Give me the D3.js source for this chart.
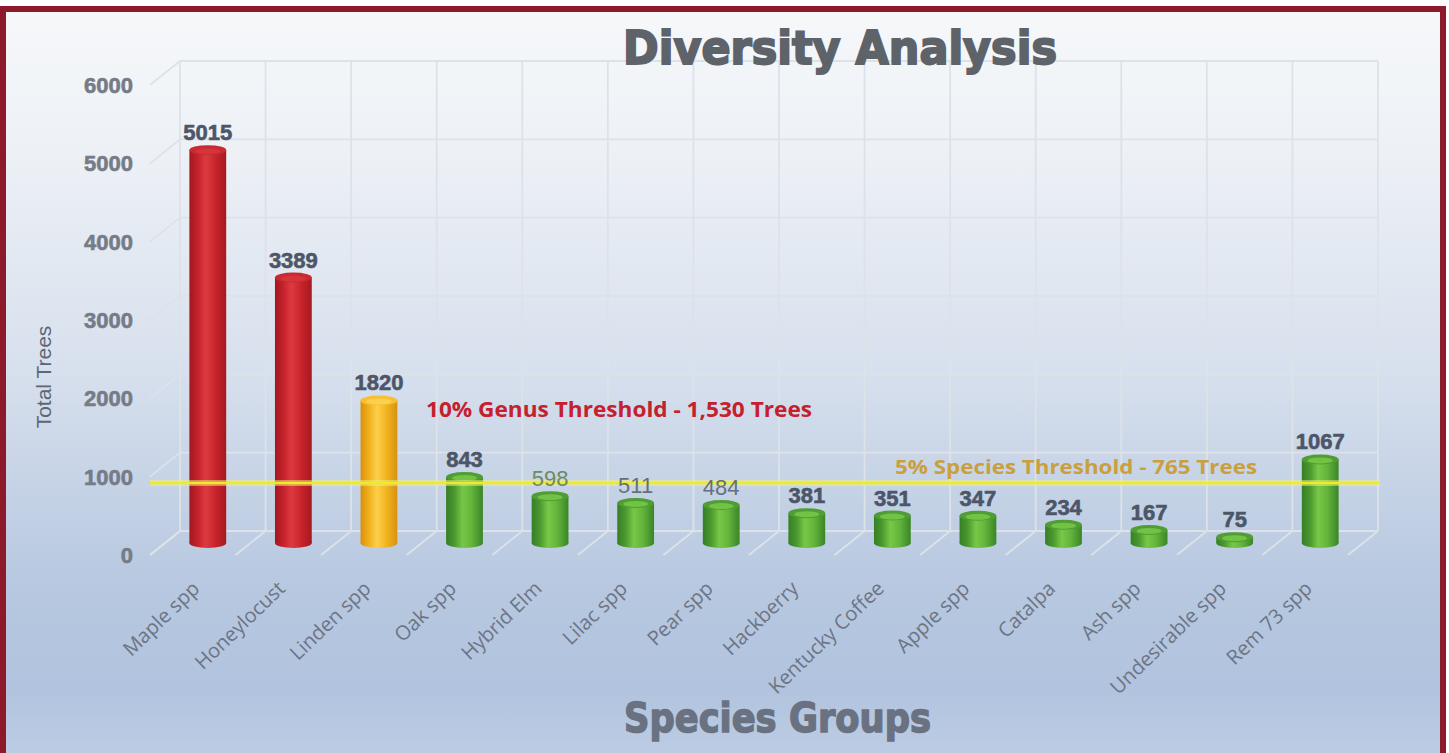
<!DOCTYPE html>
<html>
<head>
<meta charset="utf-8">
<script src="https://cdn.jsdelivr.net/npm/d3@7"></script>
<style>
  html, body { margin: 0; padding: 0; background: #fff; }
  svg { display: block; }
</style>
</head>
<body>
<div class="container"></div>
<script>
const species = ["Maple spp", "Honeylocust", "Linden spp", "Oak spp", "Hybrid Elm", "Lilac spp",
  "Pear spp", "Hackberry", "Kentucky Coffee", "Apple spp", "Catalpa", "Ash spp",
  "Undesirable spp", "Rem 73 spp"];
const totals = [5015, 3389, 1820, 843, 598, 511, 484, 381, 351, 347, 234, 167, 75, 1067];
const status = ["over", "over", "warn", "ok", "ok", "ok", "ok", "ok", "ok", "ok", "ok", "ok", "ok", "ok"];
const yTicks = [0, 1000, 2000, 3000, 4000, 5000, 6000];
const genusThreshold = 1530;
const speciesThreshold = 765;

const w = 1449;
const h = 753;
// oblique depth: back wall is shifted right/up, front plane left/down
const depth = {dx: 15, dy: -12};

const svg = d3.select('.container').append('svg')
  .attr('width', w)
  .attr('height', h);

const defs = svg.append('defs');

const bg = defs.append('linearGradient')
  .attr('id', 'bg').attr('x1', 0).attr('y1', 0).attr('x2', 0).attr('y2', 1);
[[0, '#f6f8fa'], [0.18, '#edf1f6'], [0.45, '#d7e0ed'], [0.72, '#b7c8e0'], [0.85, '#b1c3de'], [1, '#c6d4e9']]
  .forEach(s => bg.append('stop').attr('offset', s[0]).attr('stop-color', s[1]));

const palettes = {
  over: ['#a3171f', '#c4222b', '#dd3a40', '#c8252d', '#a8181f'],
  warn: ['#d9900e', '#f0b01c', '#fcd04a', '#f2b420', '#d6920f'],
  ok:   ['#367f25', '#4a982f', '#78c847', '#62b43b', '#3a8527']
};
Object.entries(palettes).forEach(([k, c]) => {
  const g = defs.append('linearGradient').attr('id', 'cyl-' + k)
    .attr('x1', 0).attr('y1', 0).attr('x2', 1).attr('y2', 0);
  [[0, c[0]], [0.22, c[1]], [0.45, c[2]], [0.7, c[3]], [1, c[4]]]
    .forEach(s => g.append('stop').attr('offset', s[0]).attr('stop-color', s[1]));
});
const topColor = {over: '#c92a32', warn: '#f7c030', ok: '#4f9d34'};
const topInner = {over: '#d4343b', warn: '#fbd04c', ok: '#72c246'};

// background
svg.append('rect')
  .attr('x', 3).attr('y', 9).attr('width', 1440).attr('height', 800)
  .attr('fill', 'url(#bg)');

// scales (mid-depth plane, where the cylinders stand)
const x = d3.scaleBand()
  .domain(species)
  .range([165, 1363])
  .paddingInner(0.57)
  .paddingOuter(0.285);
const y = d3.scaleLinear()
  .domain([0, 6000])
  .range([543, 73]);

const step = x.step();
const xStart = x.range()[0];
const bounds = d3.range(species.length + 1).map(i => xStart + i * step);

const grid = svg.append('g')
  .attr('stroke', '#dde2e9')
  .attr('stroke-width', 1.8)
  .attr('fill', 'none');

// back wall horizontals
grid.selectAll('.hback')
  .data(yTicks)
  .enter().append('line')
  .attr('x1', bounds[0] + depth.dx).attr('x2', bounds[bounds.length - 1] + depth.dx)
  .attr('y1', d => y(d) + depth.dy).attr('y2', d => y(d) + depth.dy);

// back wall verticals
grid.selectAll('.vback')
  .data(bounds)
  .enter().append('line')
  .attr('x1', d => d + depth.dx).attr('x2', d => d + depth.dx)
  .attr('y1', y(0) + depth.dy).attr('y2', y(6000) + depth.dy);

// left wall diagonals
grid.selectAll('.lwall')
  .data(yTicks)
  .enter().append('line')
  .attr('x1', bounds[0] - depth.dx).attr('y1', d => y(d) - depth.dy)
  .attr('x2', bounds[0] + depth.dx).attr('y2', d => y(d) + depth.dy);

// floor diagonals
grid.selectAll('.floor')
  .data(bounds)
  .enter().append('line')
  .attr('x1', d => d - depth.dx).attr('y1', y(0) - depth.dy)
  .attr('x2', d => d + depth.dx).attr('y2', y(0) + depth.dy);

// y tick labels on the front plane
svg.append('g').selectAll('text')
  .data(yTicks)
  .enter().append('text')
  .attr('x', 133)
  .attr('y', d => y(d) - depth.dy)
  .attr('dy', '0.36em')
  .attr('text-anchor', 'end')
  .attr('font-family', 'Liberation Sans, Arial, sans-serif')
  .attr('font-weight', 'bold')
  .attr('font-size', 22)
  .attr('stroke', '#767c87').attr('stroke-width', 0.6)
  .attr('fill', '#767c87')
  .text(d => d);

svg.append('text')
  .attr('transform', 'translate(51, 377) rotate(-90)')
  .attr('text-anchor', 'middle')
  .attr('font-family', 'Liberation Sans, Arial, sans-serif')
  .attr('font-size', 21)
  .attr('fill', '#5e6676')
  .text('Total Trees');

// cylinders
const ry = 5;
const bw = x.bandwidth();
const bars = svg.append('g').selectAll('.bar')
  .data(species)
  .enter().append('g')
  .classed('bar', true);

bars.append('ellipse')
  .attr('cx', d => x(d) + bw / 2)
  .attr('cy', y(0))
  .attr('rx', bw / 2).attr('ry', ry)
  .attr('fill', (d, i) => `url(#cyl-${status[i]})`);
bars.append('rect')
  .attr('x', d => x(d))
  .attr('y', (d, i) => y(totals[i]))
  .attr('width', bw)
  .attr('height', (d, i) => y(0) - y(totals[i]))
  .attr('fill', (d, i) => `url(#cyl-${status[i]})`);
bars.append('ellipse')
  .attr('cx', d => x(d) + bw / 2)
  .attr('cy', (d, i) => y(totals[i]))
  .attr('rx', bw / 2).attr('ry', ry)
  .attr('fill', (d, i) => topColor[status[i]]);
bars.append('ellipse')
  .attr('cx', d => x(d) + bw / 2)
  .attr('cy', (d, i) => y(totals[i]) + 1)
  .attr('rx', bw / 2 - 6).attr('ry', ry - 2)
  .attr('fill', (d, i) => topInner[status[i]]);

// 5% species threshold line
svg.append('line')
  .attr('x1', bounds[0] - depth.dx).attr('x2', bounds[bounds.length - 1] + depth.dx + 2)
  .attr('y1', y(speciesThreshold)).attr('y2', y(speciesThreshold))
  .attr('stroke', '#f4f27a').attr('stroke-width', 6).attr('opacity', 0.5);
svg.append('line')
  .attr('x1', bounds[0] - depth.dx).attr('x2', bounds[bounds.length - 1] + depth.dx + 2)
  .attr('y1', y(speciesThreshold)).attr('y2', y(speciesThreshold))
  .attr('stroke', '#ecec2e').attr('stroke-width', 2.5);

// value labels
const thin = new Set(["Hybrid Elm", "Lilac spp", "Pear spp"]);
svg.append('g').selectAll('text')
  .data(species)
  .enter().append('text')
  .attr('x', d => x(d) + bw / 2)
  .attr('y', (d, i) => y(totals[i]) - 10)
  .attr('text-anchor', 'middle')
  .attr('font-family', 'Liberation Sans, Arial, sans-serif')
  .attr('font-weight', d => thin.has(d) ? 'normal' : 'bold')
  .attr('font-size', 22)
  .attr('stroke', d => thin.has(d) ? 'none' : '#4d5668').attr('stroke-width', 0.6)
  .attr('fill', d => d === 'Hybrid Elm' ? '#6f8a62' : (thin.has(d) ? '#66707c' : '#4d5668'))
  .text((d, i) => totals[i]);

// threshold annotations
svg.append('text')
  .attr('x', 426).attr('y', 417)
  .attr('font-family', 'Open Sans, sans-serif')
  .attr('font-weight', 'bold')
  .attr('font-size', 21)
  .attr('textLength', 386)
  .attr('lengthAdjust', 'spacingAndGlyphs')
  .attr('fill', '#c4202e')
  .text(`10% Genus Threshold - ${d3.format(',')(genusThreshold)} Trees`);

svg.append('text')
  .attr('x', 895).attr('y', 474)
  .attr('font-family', 'Open Sans, sans-serif')
  .attr('font-weight', 'bold')
  .attr('font-size', 20)
  .attr('textLength', 362)
  .attr('lengthAdjust', 'spacingAndGlyphs')
  .attr('fill', '#c9a03c')
  .text(`5% Species Threshold  - ${speciesThreshold} Trees`);

// category labels
svg.append('g').selectAll('text')
  .data(species)
  .enter().append('text')
  .attr('transform', d => `translate(${x(d) + bw / 2 - 7}, 590) rotate(-44)`)
  .attr('text-anchor', 'end')
  .attr('font-family', 'Open Sans, sans-serif')
  .attr('font-size', 20)
  .attr('fill', '#6d7484')
  .text(d => d);

// titles
svg.append('text')
  .attr('x', 623).attr('y', 64)
  .attr('font-family', 'DejaVu Sans, sans-serif')
  .attr('font-weight', 'bold')
  .attr('font-size', 46)
  .attr('textLength', 434)
  .attr('lengthAdjust', 'spacingAndGlyphs')
  .attr('stroke', '#5e6269').attr('stroke-width', 2)
  .attr('fill', '#5e6269')
  .text('Diversity Analysis');

svg.append('text')
  .attr('x', 624).attr('y', 732)
  .attr('font-family', 'DejaVu Sans, sans-serif')
  .attr('font-weight', 'bold')
  .attr('font-size', 40)
  .attr('textLength', 307)
  .attr('lengthAdjust', 'spacingAndGlyphs')
  .attr('stroke', '#6a7281').attr('stroke-width', 1.5)
  .attr('fill', '#6a7281')
  .text('Species Groups');

// frame
svg.append('rect')
  .attr('x', 3).attr('y', 9).attr('width', 1440).attr('height', 800)
  .attr('fill', 'none')
  .attr('stroke', '#8c1a2a')
  .attr('stroke-width', 6);
</script>
</body>
</html>
